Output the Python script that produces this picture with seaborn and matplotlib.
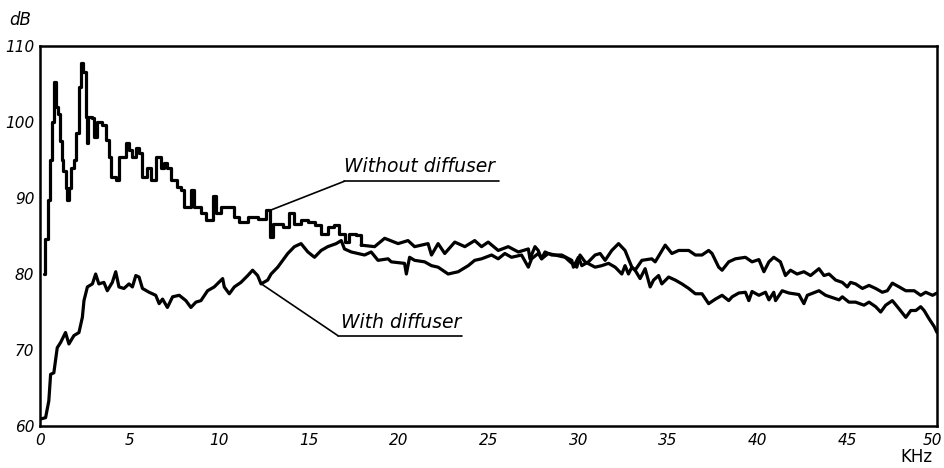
import numpy as np
import pandas as pd
import seaborn as sns
import matplotlib.pyplot as plt
import matplotlib.transforms as mtransforms

# Sound pressure level spectra, frequency in kHz, level in dB
# Without diffuser: low-frequency part recorded as a stepped trace
wo_step_freq = [0.20, 0.30, 0.42, 0.55, 0.68, 0.80, 0.88, 1.00, 1.10, 1.20,
                1.30, 1.42, 1.50, 1.59, 1.75, 1.87, 2.00, 2.15, 2.26, 2.41,
                2.54, 2.60, 2.65, 2.92, 2.99, 3.20, 3.47, 3.66, 3.83, 3.94,
                4.22, 4.39, 4.78, 4.94, 5.15, 5.34, 5.50, 5.71, 5.99, 6.17,
                6.45, 6.73, 6.90, 7.10, 7.29, 7.66, 7.85, 8.03, 8.41, 8.59,
                8.97, 9.25, 9.62, 9.80, 10.08, 10.83, 11.10, 11.58, 12.13, 12.60,
                12.84, 13.00, 13.53, 13.90, 14.18, 14.55, 14.93, 15.30, 15.67, 16.04,
                16.41, 16.69, 17.00, 17.25, 17.63, 17.90]
wo_step_db = [80.0, 84.6, 89.7, 95.0, 100.0, 105.3, 102.0, 101.0, 97.5, 95.0,
              93.5, 91.3, 89.7, 91.3, 94.0, 95.0, 98.6, 104.6, 107.8, 106.6,
              100.7, 97.3, 100.7, 100.5, 98.0, 100.0, 99.6, 97.6, 95.4, 92.8,
              92.4, 95.4, 97.3, 96.3, 95.4, 96.6, 95.9, 92.8, 94.0, 92.4,
              95.4, 94.0, 94.6, 94.0, 92.4, 91.4, 91.0, 88.8, 91.0, 88.8,
              88.0, 87.1, 90.2, 88.0, 88.8, 87.5, 86.9, 87.5, 87.3, 88.4,
              84.9, 86.6, 86.2, 88.0, 86.6, 87.1, 86.9, 86.4, 85.3, 86.2,
              86.4, 85.3, 84.2, 85.3, 85.1, 83.8]

# Without diffuser: continuous trace above 18 kHz
wo_freq = [17.90, 18.65, 19.21, 19.96, 20.51, 20.88, 21.63, 21.82, 22.19, 22.56,
           23.12, 23.68, 24.23, 24.61, 24.98, 25.54, 26.10, 26.66, 27.22, 27.31,
           27.59, 27.77, 27.96, 28.15, 28.52, 29.08, 29.64, 29.73, 30.01, 30.20,
           30.57, 30.94, 31.22, 31.50, 31.87, 32.25, 32.61, 32.99, 33.17, 33.55,
           34.10, 34.29, 34.85, 35.22, 35.60, 36.16, 36.53, 36.90, 37.27, 37.46,
           37.83, 38.02, 38.39, 38.76, 39.32, 39.69, 40.07, 40.35, 40.63, 40.90,
           41.27, 41.55, 41.83, 42.20, 42.58, 42.95, 43.42, 43.70, 43.98, 44.35,
           44.72, 45.00, 45.18, 45.46, 45.84, 46.21, 46.58, 46.95, 47.23, 47.51,
           47.89, 48.26, 48.73, 49.09, 49.37, 49.75, 50.00]
wo_db = [83.8, 83.6, 84.7, 84.0, 84.4, 83.6, 84.0, 82.5, 84.0, 82.7,
         84.2, 83.6, 84.4, 83.6, 84.2, 83.1, 83.6, 82.9, 83.3, 82.0,
         83.6, 83.1, 82.0, 82.9, 82.5, 82.5, 81.8, 80.9, 82.2, 81.1,
         81.6, 82.5, 82.7, 81.8, 83.1, 84.0, 83.1, 80.9, 80.5, 81.8,
         82.0, 81.6, 83.8, 82.7, 83.1, 83.1, 82.5, 82.5, 83.1, 82.7,
         80.9, 80.5, 81.6, 82.0, 82.2, 81.6, 81.9, 80.3, 81.6, 82.2,
         81.6, 79.8, 80.5, 80.0, 80.3, 79.8, 80.7, 79.8, 80.0, 79.2,
         78.9, 78.3, 78.9, 78.7, 78.1, 78.5, 78.1, 77.6, 77.8, 78.8,
         78.3, 77.8, 77.8, 77.2, 77.6, 77.2, 77.5]

# With diffuser
w_freq = [0.00, 0.31, 0.49, 0.59, 0.77, 0.96, 1.15, 1.42, 1.61, 1.89,
          2.17, 2.36, 2.45, 2.64, 2.92, 3.10, 3.28, 3.56, 3.75, 4.03,
          4.22, 4.40, 4.68, 4.96, 5.15, 5.34, 5.52, 5.71, 6.08, 6.45,
          6.64, 6.83, 7.10, 7.39, 7.76, 8.13, 8.41, 8.69, 8.97, 9.34,
          9.71, 10.18, 10.27, 10.55, 10.83, 11.20, 11.58, 11.85, 12.13, 12.32,
          12.69, 12.88, 13.25, 13.53, 13.81, 14.18, 14.55, 14.93, 15.30, 15.67,
          16.04, 16.51, 16.79, 16.97, 17.35, 18.09, 18.46, 18.84, 19.40, 19.58,
          20.32, 20.42, 20.60, 20.88, 21.44, 21.82, 22.19, 22.75, 23.31, 23.87,
          24.23, 24.61, 25.17, 25.54, 25.91, 26.28, 26.84, 27.22, 27.40, 27.77,
          27.96, 28.33, 28.70, 29.27, 29.55, 29.92, 30.10, 30.38, 30.94, 31.31,
          31.69, 32.06, 32.43, 32.61, 32.80, 32.99, 33.17, 33.45, 33.73, 34.01,
          34.20, 34.48, 34.66, 35.04, 35.41, 35.78, 36.16, 36.53, 36.90, 37.27,
          37.65, 38.02, 38.39, 38.58, 38.95, 39.32, 39.51, 39.69, 40.07, 40.44,
          40.63, 40.90, 41.00, 41.37, 41.74, 42.30, 42.58, 42.77, 43.42, 43.79,
          44.16, 44.54, 44.72, 45.09, 45.46, 45.93, 46.21, 46.58, 46.86, 47.14,
          47.51, 47.89, 48.26, 48.54, 48.82, 49.09, 49.28, 49.56, 49.84, 50.00]
w_db = [60.9, 61.1, 63.3, 66.8, 67.0, 70.3, 71.0, 72.3, 70.8, 71.9,
        72.3, 74.3, 76.5, 78.3, 78.7, 80.0, 78.7, 78.9, 77.8, 78.9,
        80.3, 78.3, 78.1, 78.7, 78.3, 79.8, 79.6, 78.1, 77.6, 77.2,
        76.1, 76.7, 75.6, 77.0, 77.2, 76.5, 75.6, 76.3, 76.5, 77.8,
        78.3, 79.4, 78.3, 77.4, 78.3, 78.9, 79.8, 80.5, 79.8, 78.7,
        79.2, 80.0, 80.9, 81.8, 82.7, 83.6, 84.0, 82.9, 82.2, 83.1,
        83.6, 84.0, 84.4, 83.3, 82.9, 82.5, 82.9, 81.8, 82.0, 81.6,
        81.4, 80.0, 82.2, 81.8, 81.6, 81.1, 80.9, 80.0, 80.3, 81.1,
        81.8, 82.0, 82.5, 82.0, 82.7, 82.2, 82.5, 80.9, 82.0, 82.7,
        82.0, 82.7, 82.5, 82.2, 81.6, 80.9, 82.5, 81.6, 80.9, 81.1,
        81.4, 80.9, 80.0, 81.1, 80.0, 80.9, 80.5, 79.4, 80.7, 78.3,
        79.2, 79.8, 78.7, 79.6, 79.2, 78.7, 78.1, 77.4, 77.4, 76.1,
        76.7, 77.2, 76.5, 77.0, 77.5, 77.6, 76.5, 77.7, 77.2, 77.6,
        76.6, 77.6, 76.5, 77.8, 77.5, 77.3, 76.1, 77.2, 77.8, 77.2,
        76.9, 76.6, 77.0, 76.3, 76.3, 75.9, 76.3, 75.7, 75.0, 75.9,
        76.5, 75.4, 74.3, 75.2, 75.2, 75.7, 75.2, 74.1, 73.1, 72.3]

x_ticks = [0, 5, 10, 15, 20, 25, 30, 35, 40, 45, 50]
y_ticks = [60, 70, 80, 90, 100, 110]

sns.set_theme(style="white")
plt.rcParams['font.family'] = ['DejaVu Sans']
plt.rcParams['text.color'] = 'black'

fig = plt.figure(figsize=(9.44, 4.68), dpi=100)
ax = fig.add_axes([0.0424, 0.0897, 0.9502, 0.812])

line_kw = dict(color="black", linewidth=2.3, estimator=None, sort=False, ax=ax)
sns.lineplot(x=wo_step_freq, y=wo_step_db, drawstyle="steps-post", **line_kw)
sns.lineplot(x=wo_freq, y=wo_db, **line_kw)
sns.lineplot(x=w_freq, y=w_db, **line_kw)

ax.set_xlim(0, 50)
ax.set_ylim(60, 110)
ax.set_xticks(x_ticks)
ax.set_yticks(y_ticks)
ax.set_xticklabels([str(t) for t in x_ticks], fontstyle="italic", fontsize=11)
ax.set_yticklabels([str(t) for t in y_ticks], fontstyle="italic", fontsize=11)
ax.tick_params(direction="in", length=10, width=1.4, color="black",
               labelcolor="black", pad=4)
ax.tick_params(axis="x", pad=5)
ax.set_xlabel("")
ax.set_ylabel("")
for side in ["left", "right", "top", "bottom"]:
    ax.spines[side].set_visible(True)
    ax.spines[side].set_color("black")
    ax.spines[side].set_linewidth(1.8)

# keep the last x label inside the figure
last = ax.get_xticklabels()[-1]
last.set_transform(last.get_transform() +
                   mtransforms.ScaledTranslation(-5 / 100, 0, fig.dpi_scale_trans))

# Unit labels
fig.text(20 / 944, 1 - 20 / 468, "dB", fontstyle="italic", fontsize=12,
         ha="center", va="center")
fig.text(916 / 944, 1 - 457 / 468, "KHz", fontsize=12,
         ha="center", va="center")

# Curve labels with underline and leader
ax.text(16.96, 94.2, "Without diffuser", fontstyle="italic", fontsize=13.5,
        ha="left", va="center")
ax.plot([16.96, 25.6], [92.2, 92.2], color="black", lw=1.2)
ax.plot([16.96, 12.85], [92.2, 88.4], color="black", lw=1.2)

ax.text(16.79, 73.6, "With diffuser", fontstyle="italic", fontsize=13.5,
        ha="left", va="center")
ax.plot([16.6, 23.5], [71.9, 71.9], color="black", lw=1.2)
ax.plot([16.6, 12.4], [71.9, 78.6], color="black", lw=1.2)

fig.savefig("out.png", dpi=100)
